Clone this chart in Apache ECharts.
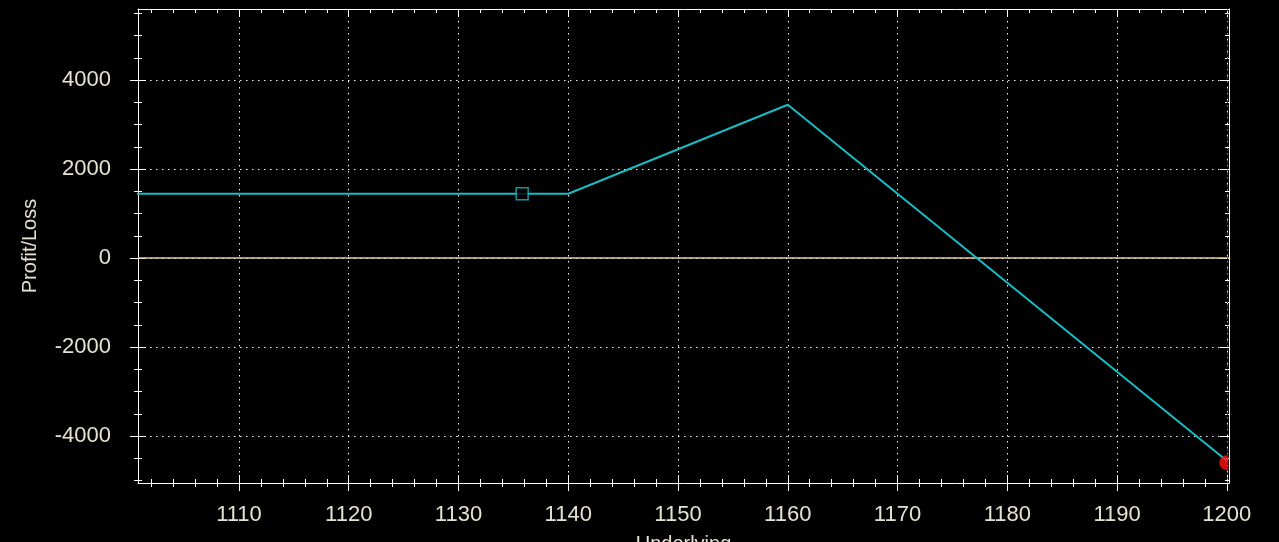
<!DOCTYPE html>
<html>
<head>
<meta charset="utf-8">
<script src="https://cdn.jsdelivr.net/npm/echarts@6/dist/echarts.min.js"></script>
<style>
html,body{margin:0;padding:0;background:#000;}
#chart{width:1279px;height:542px;}
</style>
</head>
<body>
<div id="chart"></div>
<script>
// ---- data ----
const underlying = [1100, 1140, 1160, 1200];
const profitLoss = [1445, 1445, 3445, -4555];
const entryPoint = [1135.8, 1445];
const currentPoint = [1200, -4600];
const zeroLevel = 0;
const currentPrice = 1200;

// ---- axes / ticks ----
const xMin = 1100.8, xMax = 1200.2;
const yMin = -5056, yMax = 5596;
const xMajorTicks = [1110, 1120, 1130, 1140, 1150, 1160, 1170, 1180, 1190, 1200];
const xMinorTicks = [];
for (let v = 1102; v <= 1200; v += 2) xMinorTicks.push(v);
const yMajorTicks = [-4000, -2000, 0, 2000, 4000];
const yMinorTicks = [];
for (let v = -5000; v <= 5500; v += 500) yMinorTicks.push(v);

const labelColor = '#e6e2d2';
const axisColor = '#ffffff';
const lineColor = '#19bcc4';
const fontFamily = 'Liberation Sans, Arial, sans-serif';

function mkAxis(kind, pos, ticks, inside, len, opts) {
  const a = {
    type: 'value',
    position: pos,
    min: kind === 'x' ? xMin : yMin,
    max: kind === 'x' ? xMax : yMax,
    axisLine: { show: false, onZero: false, lineStyle: { color: axisColor, width: 1 } },
    axisTick: { show: true, inside: inside, length: len, customValues: ticks,
                lineStyle: { color: axisColor, width: 1 } },
    axisLabel: { show: false },
    splitLine: { show: false }
  };
  return Object.assign(a, opts || {});
}

const dotted = { color: 'rgba(255,255,255,0.95)', width: 1, type: [1.5, 4.5] };
const plain = v => String(v);

const xAxes = [
  mkAxis('x', 'bottom', xMajorTicks, false, 8, {
    axisLine: { show: true, onZero: false, lineStyle: { color: axisColor, width: 1 } },
    axisLabel: { show: true, customValues: xMajorTicks, formatter: plain, color: labelColor,
                 fontSize: 22, fontFamily: fontFamily, margin: 21 },
    splitLine: { show: true, lineStyle: dotted },
    name: 'Underlying', nameLocation: 'middle', nameGap: 51,
    nameTextStyle: { color: labelColor, fontSize: 20, fontFamily: fontFamily }
  }),
  mkAxis('x', 'bottom', xMajorTicks, true, 8),
  mkAxis('x', 'bottom', xMinorTicks, false, 4),
  mkAxis('x', 'bottom', xMinorTicks, true, 4),
  mkAxis('x', 'top', xMajorTicks, true, 8, {
    axisLine: { show: true, onZero: false, lineStyle: { color: axisColor, width: 1 } }
  }),
  mkAxis('x', 'top', xMinorTicks, true, 4)
];

const yAxes = [
  mkAxis('y', 'left', yMajorTicks, false, 8, {
    axisLine: { show: true, onZero: false, lineStyle: { color: axisColor, width: 1 } },
    axisLabel: { show: true, customValues: yMajorTicks, formatter: plain, color: labelColor,
                 fontSize: 22, fontFamily: fontFamily, margin: 27 },
    splitLine: { show: true, lineStyle: dotted },
    name: 'Profit/Loss', nameLocation: 'middle', nameRotate: 90, nameGap: 98,
    nameTextStyle: { color: labelColor, fontSize: 20, fontFamily: fontFamily }
  }),
  mkAxis('y', 'left', yMajorTicks, true, 8),
  mkAxis('y', 'left', yMinorTicks, false, 4),
  mkAxis('y', 'left', yMinorTicks, true, 4),
  mkAxis('y', 'right', yMajorTicks, true, 9, {
    axisLine: { show: true, onZero: false, lineStyle: { color: axisColor, width: 1 } }
  }),
  mkAxis('y', 'right', yMinorTicks, true, 4)
];

const chart = echarts.init(document.getElementById('chart'), null, { renderer: 'canvas' });
chart.setOption({
  backgroundColor: '#000000',
  animation: false,
  grid: { left: 138, right: 50, top: 9, bottom: 59, containLabel: false, outerBoundsMode: 'none' },
  xAxis: xAxes,
  yAxis: yAxes,
  series: [
    {
      type: 'line',
      xAxisIndex: 0, yAxisIndex: 0,
      data: underlying.map((x, i) => [x, profitLoss[i]]),
      showSymbol: false,
      symbol: 'none',
      lineStyle: { color: lineColor, width: 2 },
      z: 5,
      markLine: {
        silent: true,
        symbol: ['none', 'none'],
        label: { show: false },
        animation: false,
        data: [
          { yAxis: zeroLevel, lineStyle: { color: '#e8cda2', width: 1.5, type: 'solid' } },
          { xAxis: currentPrice, lineStyle: { color: '#c41010', width: 1, type: [1.5, 2.5] } }
        ]
      }
    },
    {
      type: 'scatter',
      xAxisIndex: 0, yAxisIndex: 0,
      data: [entryPoint],
      symbol: 'rect',
      symbolSize: 12,
      itemStyle: { color: '#000000', borderColor: lineColor, borderWidth: 1.5 },
      z: 6
    },
    {
      type: 'scatter',
      xAxisIndex: 0, yAxisIndex: 0,
      data: [currentPoint],
      symbol: 'path://M12,0.2 A10,10 0 1,0 12,19.8 Z',
      symbolKeepAspect: false,
      symbolSize: [9, 15],
      symbolOffset: [-3, 0],
      itemStyle: { color: '#ff1010' },
      z: 7
    }
  ]
});
</script>
</body>
</html>
